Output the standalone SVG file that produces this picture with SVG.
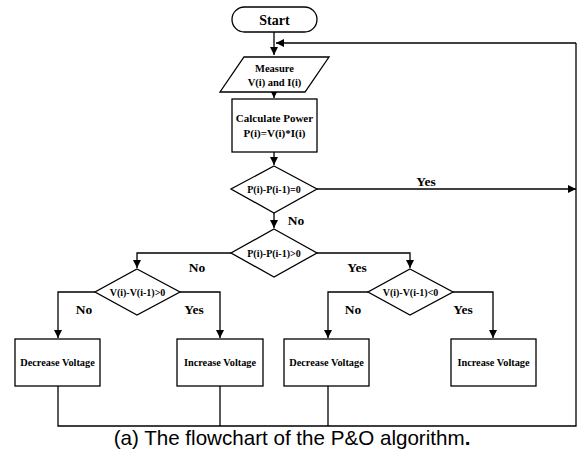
<svg xmlns="http://www.w3.org/2000/svg" width="577" height="450" viewBox="0 0 577 450">
<defs>
<marker id="ah" viewBox="0 0 10 10" refX="10" refY="5" markerWidth="8" markerHeight="8" markerUnits="userSpaceOnUse" orient="auto">
<path d="M0,0 L10,5 L0,10 z" fill="#000"/>
</marker>
<style>
.s{fill:#fff;stroke:#000;stroke-width:1.3}
.c{fill:none;stroke:#000;stroke-width:1.3}
.t{font-family:"Liberation Serif",serif;font-weight:bold;fill:#000;text-anchor:middle}
.lb{font-family:"Liberation Serif",serif;font-weight:bold;fill:#000;font-size:13.5px;text-anchor:middle}
</style>
</defs>
<rect width="577" height="450" fill="#fff"/>
<g id="connectors">
<path class="c" d="M274,32 V55" marker-end="url(#ah)"/>
<path class="c" d="M576,43 H276" marker-end="url(#ah)"/>
<path class="c" d="M274,92 V98" marker-end="url(#ah)"/>
<path class="c" d="M274,152 V165" marker-end="url(#ah)"/>
<path class="c" d="M317,189 H576" marker-end="url(#ah)"/>
<path class="c" d="M274,213 V228" marker-end="url(#ah)"/>
<path class="c" d="M231,253 H137 V268" marker-end="url(#ah)"/>
<path class="c" d="M317,253 H410 V268" marker-end="url(#ah)"/>
<path class="c" d="M95,292 H58 V338" marker-end="url(#ah)"/>
<path class="c" d="M180,292 H220 V338" marker-end="url(#ah)"/>
<path class="c" d="M368,292 H328 V338" marker-end="url(#ah)"/>
<path class="c" d="M453,292 H493 V338" marker-end="url(#ah)"/>
<path class="c" d="M58,386 V426 H576 V43"/>
<path class="c" d="M220,386 V426"/>
<path class="c" d="M328,386 V426"/>
</g>
<g id="start">
<rect class="s" x="232" y="7" width="85" height="25" rx="12.5"/>
<text class="t" x="274.5" y="24.5" font-size="14">Start</text>
</g>
<g id="measure">
<polygon class="s" points="244,57 329,57 305,92 220,92"/>
<text class="t" x="274.5" y="72" font-size="10.5">Measure</text>
<text class="t" x="274.5" y="86" font-size="10.5">V(i) and I(i)</text>
</g>
<g id="calc">
<rect class="s" x="232" y="99" width="85" height="53"/>
<text class="t" x="274.5" y="122" font-size="11">Calculate Power</text>
<text class="t" x="274.5" y="137" font-size="11">P(i)=V(i)*I(i)</text>
</g>
<g id="d1">
<polygon class="s" points="274,166 317,189 274,213 231,189"/>
<text class="t" x="274" y="192.5" font-size="10">P(i)-P(i-1)=0</text>
</g>
<g id="d2">
<polygon class="s" points="274,229 317,253 274,277 231,253"/>
<text class="t" x="274" y="256.5" font-size="10">P(i)-P(i-1)&gt;0</text>
</g>
<g id="d3">
<polygon class="s" points="137,269 180,292 137,315 95,292"/>
<text class="t" x="137.5" y="295.5" font-size="10">V(i)-V(i-1)&gt;0</text>
</g>
<g id="d4">
<polygon class="s" points="410,269 453,292 410,315 368,292"/>
<text class="t" x="410.5" y="295.5" font-size="10">V(i)-V(i-1)&lt;0</text>
</g>
<g id="b1">
<rect class="s" x="15" y="339" width="85" height="47"/>
<text class="t" x="57.5" y="366" font-size="10.3">Decrease Voltage</text>
</g>
<g id="b2">
<rect class="s" x="177" y="339" width="86" height="47"/>
<text class="t" x="220" y="366" font-size="10.3">Increase Voltage</text>
</g>
<g id="b3">
<rect class="s" x="284" y="339" width="85" height="47"/>
<text class="t" x="326.5" y="366" font-size="10.3">Decrease Voltage</text>
</g>
<g id="b4">
<rect class="s" x="451" y="339" width="85" height="47"/>
<text class="t" x="493.5" y="366" font-size="10.3">Increase Voltage</text>
</g>
<g id="labels">
<text class="lb" x="426" y="186">Yes</text>
<text class="lb" x="296" y="225">No</text>
<text class="lb" x="197" y="272">No</text>
<text class="lb" x="357" y="272">Yes</text>
<text class="lb" x="84" y="314">No</text>
<text class="lb" x="194" y="314">Yes</text>
<text class="lb" x="353" y="314">No</text>
<text class="lb" x="463" y="314">Yes</text>
</g>
<text x="292" y="445" font-family="'Liberation Sans',Arial,sans-serif" font-size="20.6" text-anchor="middle" fill="#000">(a) The flowchart of the P&amp;O algorithm<tspan font-weight="bold">.</tspan></text>
</svg>
